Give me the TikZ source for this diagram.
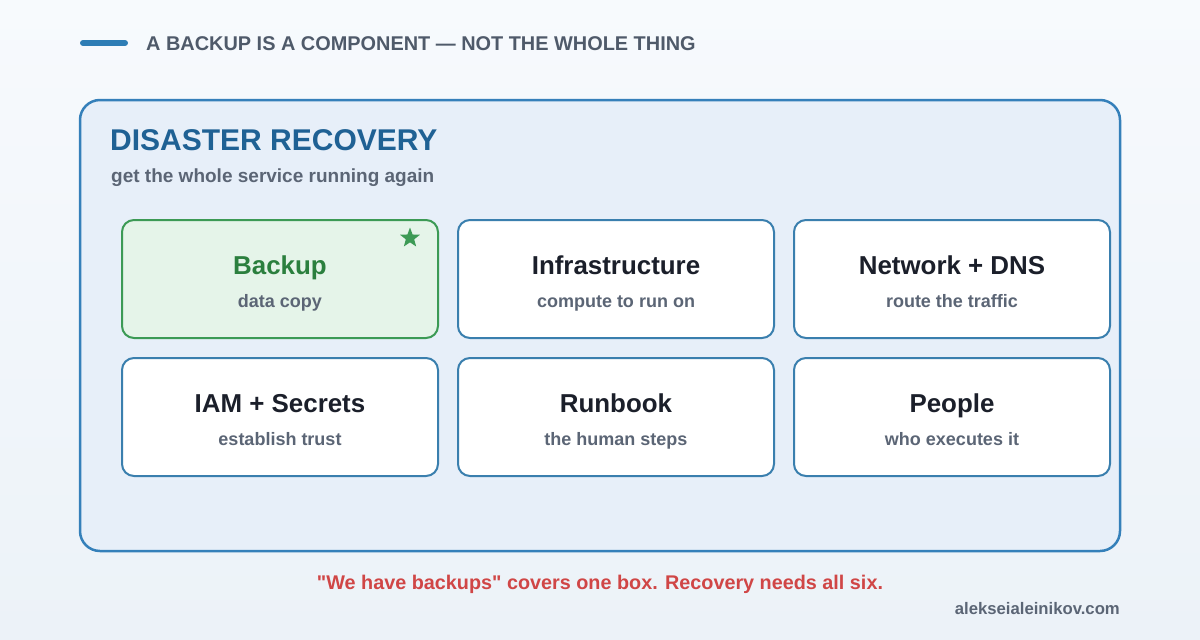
\documentclass[tikz,border=0pt]{standalone}
\usepackage{fontspec}
\setmainfont{Liberation Sans}
\newfontfamily\plainfam{Liberation Sans}
\usetikzlibrary{shapes.geometric}
\definecolor{bgtop}{HTML}{F7FAFD}
\definecolor{bgbot}{HTML}{ECF2F8}
\definecolor{accent}{HTML}{2E7DB5}
\definecolor{slate}{HTML}{4F5A6A}
\definecolor{subgray}{HTML}{5B6575}
\definecolor{drblue}{HTML}{1F6194}
\definecolor{outerfill}{HTML}{E7EFF9}
\definecolor{outerline}{HTML}{3580BA}
\definecolor{boxline}{HTML}{3A7FAE}
\definecolor{darktext}{HTML}{1B1F2A}
\definecolor{greentext}{HTML}{2B7F3E}
\definecolor{greenline}{HTML}{3C9A55}
\definecolor{greenfill}{HTML}{E5F4E9}
\definecolor{warnred}{HTML}{D04646}
\tikzset{
  comp/.style={draw=boxline, line width=2pt, fill=white, rounded corners=12pt,
    minimum width=316pt, minimum height=118pt, inner sep=0pt},
  compgreen/.style={comp, draw=greenline, fill=greenfill},
  comptitle/.style={anchor=base, font=\fontsize{25.9}{30}\selectfont\bfseries, text=darktext, inner sep=0pt},
  compsub/.style={anchor=base, font=\fontsize{18}{21}\selectfont\bfseries, text=subgray, inner sep=0pt},
}
\begin{document}
\begin{tikzpicture}[x=1pt,y=-1pt]
\useasboundingbox (0,0) rectangle (1200,640);
\shade[top color=bgtop, bottom color=bgbot] (0,0) rectangle (1200,640);
% header
\coordinate (acc1) at (83,43);
\coordinate (acc2) at (125,43);
\draw[accent, line width=6pt, line cap=round] (acc1) -- (acc2);
\node[anchor=base west, inner sep=0pt, text=slate, font=\fontsize{19.9}{23}\selectfont\bfseries] (header) at (146,50) {A BACKUP IS A COMPONENT — NOT THE WHOLE THING};
% outer group
\node[draw=outerline, line width=2.5pt, fill=outerfill, rounded corners=20pt, minimum width=1040pt, minimum height=451pt, inner sep=0pt] (dr) at (600,325.5) {};
\node[anchor=base west, inner sep=0pt, text=drblue, font=\fontsize{30}{36}\selectfont\bfseries] (drtitle) at (110,150) {DISASTER RECOVERY};
\node[anchor=base west, inner sep=0pt, text=subgray, font=\fontsize{19}{22}\selectfont\bfseries] (drsub) at (111,182) {get the whole service running again};
% components
\node[compgreen] (backup) at (280,279) {};
\node[comp] (infra) at (616,279) {};
\node[comp] (net) at (952,279) {};
\node[comp] (iam) at (280,417) {};
\node[comp] (runbook) at (616,417) {};
\node[comp] (people) at (952,417) {};
\node[comptitle, text=greentext] (backupT) at (280,274) {Backup};
\node[compsub] (backupS) at (280,307) {data copy};
\node[star, star points=5, star point ratio=2.4, fill=greenline, minimum size=21pt, inner sep=0pt] (star) at (410,238) {};
\node[comptitle] (infraT) at (616,274) {Infrastructure};
\node[compsub] (infraS) at (616,307) {compute to run on};
\node[comptitle] (netT) at (952,274) {Network + DNS};
\node[compsub] (netS) at (952,307) {route the traffic};
\node[comptitle] (iamT) at (280,412) {IAM + Secrets};
\node[compsub] (iamS) at (280,445) {establish trust};
\node[comptitle] (runbookT) at (616,412) {Runbook};
\node[compsub] (runbookS) at (616,445) {the human steps};
\node[comptitle] (peopleT) at (952,412) {People};
\node[compsub] (peopleS) at (952,445) {who executes it};
% footer
\node[anchor=base, inner sep=0pt, text=warnred, font=\plainfam\fontsize{19.8}{23}\selectfont\bfseries] (warn) at (600,589) {"We have backups" covers one box. Recovery needs all six.};
\node[anchor=base east, inner sep=0pt, text=subgray, font=\fontsize{16.7}{19}\selectfont\bfseries] (site) at (1120,614) {alekseialeinikov.com};
\end{tikzpicture}
\end{document}
